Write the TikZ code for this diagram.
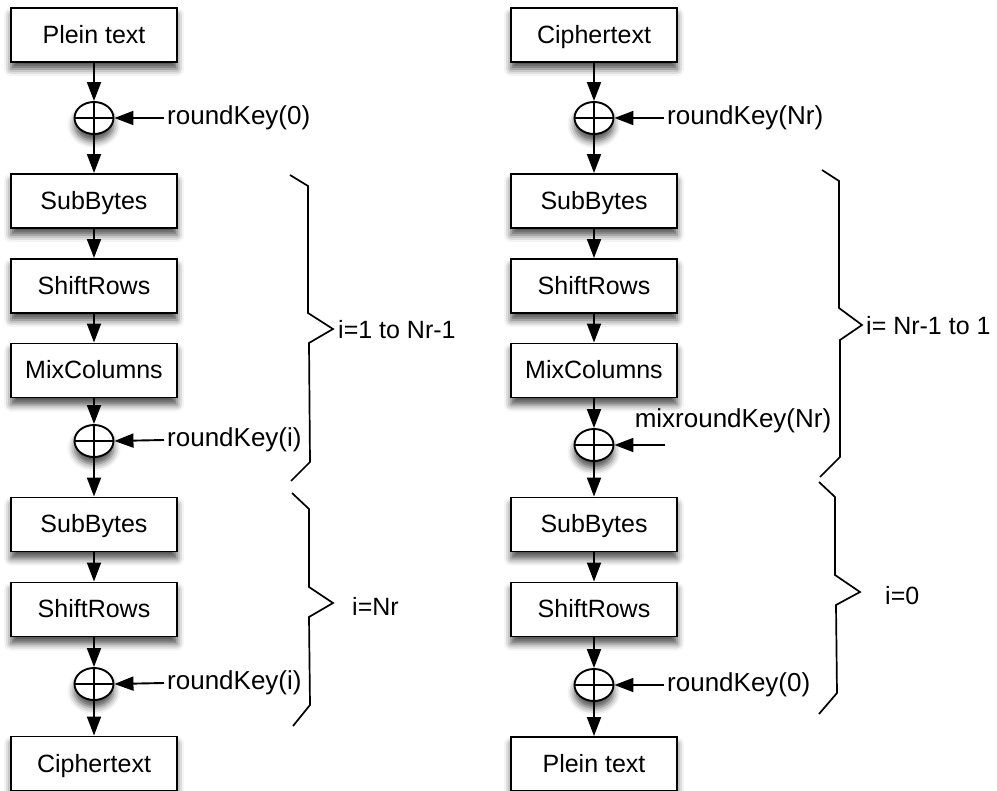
\documentclass[tikz,border=0pt]{standalone}
\usepackage{fontspec}
\setmainfont{Liberation Sans}
\usetikzlibrary{arrows.meta,shapes.geometric,shadows.blur}

\begin{document}
\begin{tikzpicture}[x=1pt,y=-1pt,
  softshadow/.style={blur shadow={shadow xshift=0pt, shadow yshift=-7pt,
      shadow blur radius=7pt, shadow opacity=70}},
  stage/.style={draw, line width=1.9pt, fill=white, minimum width=166pt,
      minimum height=54pt, inner sep=0pt, text height=22pt, text depth=5pt,
      font=\fontsize{25}{30}\selectfont, softshadow},
  xorop/.style={ellipse, draw, line width=1.9pt, fill=white, minimum width=39pt,
      minimum height=32pt, inner sep=0pt, softshadow},
  keytext/.style={font=\fontsize{26}{31}\selectfont, inner sep=3pt},
  rangetext/.style={font=\fontsize{25}{30}\selectfont, inner sep=0pt, anchor=west},
  flow/.style={line width=1.9pt, -{Triangle[length=19pt,width=14pt]}},
  bracket/.style={line width=1.7pt, line join=miter}
]
\useasboundingbox (0,0) rectangle (997,791);

% ---------------- encryption column ----------------
\node[stage] (ept)  at (94,35)    {Plein text};
\node[xorop] (ex0)  at (94,118)   {};
\node[stage] (esb1) at (94,201)   {SubBytes};
\node[stage] (esr1) at (94,286)   {ShiftRows};
\node[stage] (emc)  at (94,370.5) {MixColumns};
\node[xorop] (ex1)  at (94,441)   {};
\node[stage] (esb2) at (94,524.5) {SubBytes};
\node[stage] (esr2) at (94,609.5) {ShiftRows};
\node[xorop] (ex2)  at (94,684)   {};
\node[stage] (ect)  at (94,763.5) {Ciphertext};

\node[keytext, anchor=west] (ek0) at (164,118) {roundKey(0)};
\node[keytext, anchor=west] (ek1) at (164,440) {roundKey(i)};
\node[keytext, anchor=west] (ek2) at (164,683) {roundKey(i)};

% ---------------- decryption column ----------------
\node[stage] (dct)  at (594,35)    {Ciphertext};
\node[xorop] (dx0)  at (594,118)   {};
\node[stage] (dsb1) at (594,201)   {SubBytes};
\node[stage] (dsr1) at (594,286)   {ShiftRows};
\node[stage] (dmc)  at (594,370.5) {MixColumns};
\node[xorop] (dx1)  at (594,445)   {};
\node[stage] (dsb2) at (594,524.5) {SubBytes};
\node[stage] (dsr2) at (594,609.5) {ShiftRows};
\node[xorop] (dx2)  at (594,685)   {};
\node[stage] (dpt)  at (594,764)   {Plein text};

\node[keytext, anchor=west] (dk0) at (664,118) {roundKey(Nr)};
\node[keytext] (dkm) at (733,421) {mixroundKey(Nr)};
\coordinate (dkmin) at (665,445);
\node[keytext, anchor=west] (dk2) at (664,685) {roundKey(0)};

% plus signs inside the XOR circles
\foreach \x in {ex0,ex1,ex2,dx0,dx1,dx2}
  \draw[line width=1.6pt] (\x.north) -- (\x.south) (\x.west) -- (\x.east);

% data flow
\draw[flow] (ept) -- (ex0);
\draw[flow] (ex0) -- (esb1);
\draw[flow] (esb1) -- (esr1);
\draw[flow] (esr1) -- (emc);
\draw[flow] (emc) -- (ex1);
\draw[flow] (ex1) -- (esb2);
\draw[flow] (esb2) -- (esr2);
\draw[flow] (esr2) -- (ex2);
\draw[flow] (ex2) -- (ect);

\draw[flow] (dct) -- (dx0);
\draw[flow] (dx0) -- (dsb1);
\draw[flow] (dsb1) -- (dsr1);
\draw[flow] (dsr1) -- (dmc);
\draw[flow] (dmc) -- (dx1);
\draw[flow] (dx1) -- (dsb2);
\draw[flow] (dsb2) -- (dsr2);
\draw[flow] (dsr2) -- (dx2);
\draw[flow] (dx2) -- (dpt);

% round keys
\draw[flow] (ek0.west) -- (ex0.east);
\draw[flow] (ek1.west) -- (ex1.east);
\draw[flow] (ek2.west) -- (ex2.east);
\draw[flow] (dk0.west) -- (dx0.east);
\draw[flow] (dkmin) -- (dx1.east);
\draw[flow] (dk2.west) -- (dx2.east);

% round brackets, encryption
\draw[bracket] (290,175) -- (308,186) -- (308,313) -- (333,329)
               -- (309,343) -- (310,462) -- (291,481);
\node[rangetext] (er1) at (338,330) {i=1 to Nr-1};
\draw[bracket] (292,493) -- (309,509) -- (309,587) -- (333,603)
               -- (309,617) -- (310,705) -- (293,726);
\node[rangetext] (er2) at (352,606) {i=Nr};

% round brackets, decryption
\draw[bracket] (822,170) -- (839,181) -- (839,308) -- (862,325)
               -- (840,340) -- (840,457) -- (820,477);
\node[rangetext] (dr1) at (866,326) {i= Nr-1 to 1};
\draw[bracket] (819,482) -- (835,497) -- (835,575) -- (860,592)
               -- (836,605) -- (837,693) -- (819,714);
\node[rangetext] (dr2) at (885,596) {i=0};
\end{tikzpicture}
\end{document}
